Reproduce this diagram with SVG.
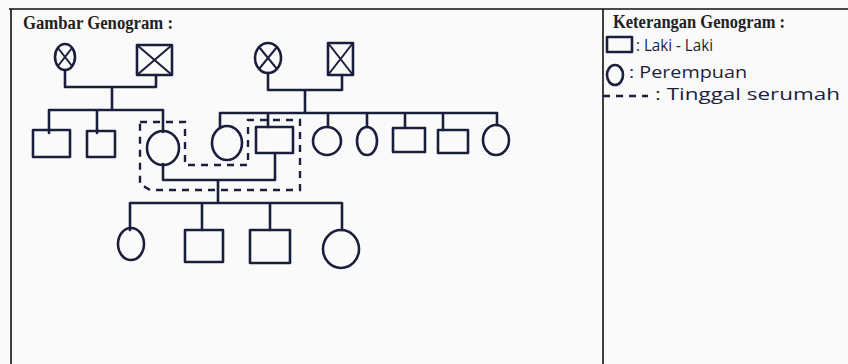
<svg xmlns="http://www.w3.org/2000/svg" width="848" height="364" viewBox="0 0 848 364">
<style>
.frame{fill:none;stroke:#111;stroke-width:1.6}
.sym{fill:none;stroke:#1b1e3c;stroke-width:2.6;stroke-linejoin:round;stroke-linecap:round}
.x{fill:none;stroke:#1b1e3c;stroke-width:2}
.con{fill:none;stroke:#1b1e3c;stroke-width:2.6;stroke-linejoin:round;stroke-linecap:round}
.dash{fill:none;stroke:#1b1e3c;stroke-width:2.4;stroke-dasharray:7 6}
.title{font-family:"Liberation Serif","Times New Roman",serif;font-weight:bold;font-size:18px;fill:#222}
.hand{font-family:"Open Sans","DejaVu Sans",sans-serif;font-size:16px;fill:#1b1e3c}
</style>
<rect x="0" y="0" width="848" height="364" fill="#fbfafb"/>
<g id="frame">
<path class="frame" d="M9 9 H848 M11 9 V364 M603 9 V364"/>
<text class="title" x="23" y="29" textLength="150" lengthAdjust="spacingAndGlyphs">Gambar Genogram :</text>
<text class="title" x="613" y="28" textLength="172" lengthAdjust="spacingAndGlyphs">Keterangan Genogram :</text>
</g>
<g id="legend">
<rect class="sym" x="607" y="37" width="25" height="15"/>
<text class="hand" x="636" y="51" textLength="77" lengthAdjust="spacingAndGlyphs">: Laki - Laki</text>
<ellipse class="sym" cx="615" cy="75" rx="8" ry="10"/>
<text class="hand" x="629" y="78" textLength="118" lengthAdjust="spacingAndGlyphs">: Perempuan</text>
<path class="dash" d="M603 96 H648" stroke-dasharray="5 4"/>
<text class="hand" x="655" y="100" textLength="185" lengthAdjust="spacingAndGlyphs">: Tinggal serumah</text>
</g>
<g id="connectors">
<path class="con" d="M65 70 V87 H156 V75 M112 87 V110 M49 110 H163 M49 110 V133 M97 110 V133 M163 110 V132"/>
<path class="con" d="M268 73 V90 H342 V75 M305 90 V112 M220 113 H497 M220 113 V128 M268 113 V127 M328 113 V127 M367 113 V127 M405 113 V128 M443 113 V130 M497 113 V125"/>
<path class="con" d="M163 164 V180 H275 V153 M218 180 V203 M130 203 H342 M130 203 V230 M202 203 V230 M270 203 V230 M342 203 V230"/>
<path class="dash" d="M140 122 H185 V165 H248 V120 H300 V190 H150 L140 184 Z"/>
</g>
<g id="gm1"><ellipse class="sym" cx="65" cy="57" rx="10" ry="13"/><path class="x" d="M58 48 L72 66 M72 48 L58 66"/></g>
<g id="gf1"><rect class="sym" x="137" y="45" width="35" height="30"/><path class="x" d="M137 45 L172 75 M172 45 L137 75"/></g>
<g id="gm2"><ellipse class="sym" cx="268" cy="58" rx="13" ry="15"/><path class="x" d="M259 47 L277 69 M277 47 L259 69"/></g>
<g id="gf2"><rect class="sym" x="328" y="43" width="25" height="32"/><path class="x" d="M328 43 L353 75 M353 43 L328 75"/></g>
<g id="p1"><rect class="sym" x="33" y="130" width="37" height="27"/></g>
<g id="p2"><rect class="sym" x="87" y="131" width="28" height="26"/></g>
<g id="mother"><ellipse class="sym" cx="163" cy="148" rx="16" ry="17"/></g>
<g id="aunt1"><ellipse class="sym" cx="227" cy="143" rx="15" ry="17"/></g>
<g id="father"><rect class="sym" x="256" y="127" width="37" height="26"/></g>
<g id="s3"><ellipse class="sym" cx="327" cy="141" rx="14" ry="14"/></g>
<g id="s4"><ellipse class="sym" cx="367" cy="141" rx="10" ry="14"/></g>
<g id="s5"><rect class="sym" x="393" y="128" width="32" height="24"/></g>
<g id="s6"><rect class="sym" x="438" y="130" width="30" height="23"/></g>
<g id="s7"><ellipse class="sym" cx="496" cy="140" rx="13" ry="15"/></g>
<g id="c1"><ellipse class="sym" cx="131" cy="244" rx="13" ry="16"/></g>
<g id="c2"><rect class="sym" x="185" y="230" width="38" height="32"/></g>
<g id="c3"><rect class="sym" x="250" y="230" width="40" height="33"/></g>
<g id="c4"><ellipse class="sym" cx="341" cy="249" rx="18" ry="19"/></g>
</svg>
